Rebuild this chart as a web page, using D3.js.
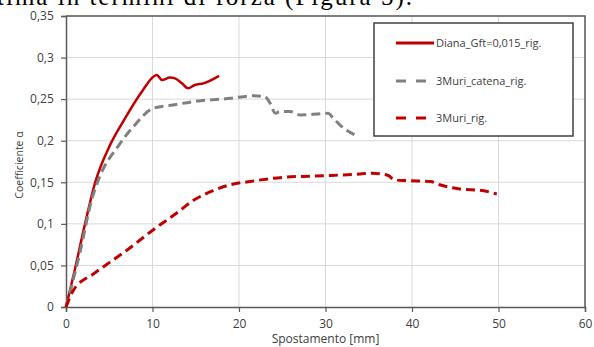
<!DOCTYPE html>
<html>
<head>
<meta charset="utf-8">
<script src="https://cdn.jsdelivr.net/npm/d3@7"></script>
<style>
  body { margin: 0; background: #fff; }
  svg { display: block; }
</style>
</head>
<body>
<div id="chart"></div>
<script>
// x = spostamento [mm], y = coefficiente alpha
var dianaX = [0, 1.0, 2.2, 3.35, 5.1, 6.6, 8.9, 10.1, 10.5, 11.1, 12.0, 12.6, 13.4, 14.1, 14.9, 15.9, 17.7];
var dianaY = [0, 0.044, 0.10, 0.149, 0.195, 0.223, 0.261, 0.277, 0.279, 0.273, 0.276, 0.275, 0.269, 0.263, 0.267, 0.269, 0.278];

var catenaX = [0, 1.6, 2.97, 3.9, 6.0, 7.8, 10.1, 12.4, 14.7, 19.0, 21.7, 23.0, 23.6, 24.2, 24.7, 25.9, 27.1, 29.0, 30.3, 30.9, 32.1, 33.6];
var catenaY = [0, 0.065, 0.129, 0.157, 0.193, 0.217, 0.239, 0.243, 0.247, 0.251, 0.254, 0.253, 0.245, 0.233, 0.235, 0.235, 0.231, 0.232, 0.233, 0.227, 0.215, 0.206];

var muriX = [0, 0.85, 3.2, 5.1, 7.0, 10.1, 12.8, 14.7, 17.0, 19.0, 21.3, 25.1, 30.1, 34.0, 35.4, 36.4, 37.3, 37.9, 39.4, 42.1, 43.2, 45.5, 48.1, 49.8];
var muriY = [0, 0.020, 0.040, 0.054, 0.068, 0.093, 0.113, 0.128, 0.140, 0.147, 0.151, 0.156, 0.158, 0.160, 0.161, 0.160, 0.158, 0.153, 0.152, 0.151, 0.147, 0.142, 0.140, 0.136];

var seriesNames = ['Diana_Gft=0,015_rig.', '3Muri_catena_rig.', '3Muri_rig.'];
var seriesColors = ['#c00000', '#808080', '#c00000'];
var seriesDash = [null, '9,5', '9,5'];
var legendDash = [null, '10,10', '10,10'];

var xTicks = [0, 10, 20, 30, 40, 50, 60];
var yTicks = [0, 0.05, 0.1, 0.15, 0.2, 0.25, 0.3, 0.35];

var width = 594, height = 347;
var margin = { top: 16, right: 9, bottom: 40, left: 66 };
var font = '"Open Sans", "Noto Sans", sans-serif';

var svg = d3.select('#chart').append('svg')
  .attr('width', width)
  .attr('height', height);

// page text above the chart, cut off at the top
svg.append('text')
  .attr('x', -3)
  .attr('y', 5)
  .attr('font-family', '"Liberation Serif", "DejaVu Serif", serif')
  .attr('font-size', 25)
  .attr('textLength', 415)
  .attr('fill', '#000')
  .text('tima in termini di forza (Figura 5).');

var x = d3.scaleLinear().domain([0, 60]).range([margin.left, width - margin.right]);
var y = d3.scaleLinear().domain([0, 0.35]).range([height - margin.bottom, margin.top]);

var fmt = function(d) { return d3.format('')(d).replace('.', ','); };

// grid
svg.append('g').selectAll('line.hgrid').data(yTicks.slice(1)).enter().append('line')
  .attr('x1', x(0)).attr('x2', x(60))
  .attr('y1', function(d) { return y(d); }).attr('y2', function(d) { return y(d); })
  .attr('stroke', '#d9d9d9').attr('stroke-width', 1);
svg.append('g').selectAll('line.vgrid').data(xTicks.slice(1)).enter().append('line')
  .attr('y1', y(0)).attr('y2', y(0.35))
  .attr('x1', function(d) { return x(d); }).attr('x2', function(d) { return x(d); })
  .attr('stroke', '#d9d9d9').attr('stroke-width', 1);

// axes
var xAxis = svg.append('g')
  .attr('transform', 'translate(0,' + y(0) + ')')
  .call(d3.axisBottom(x).tickValues(xTicks).tickSize(5).tickFormat(fmt));
var yAxis = svg.append('g')
  .attr('transform', 'translate(' + x(0) + ',0)')
  .call(d3.axisLeft(y).tickValues(yTicks).tickSize(5).tickFormat(fmt));

[xAxis, yAxis].forEach(function(a) {
  a.select('.domain').attr('stroke', '#595959').attr('stroke-width', 1.5);
  a.selectAll('.tick line').attr('stroke', '#595959').attr('stroke-width', 1.2);
  a.selectAll('.tick text')
    .attr('font-family', font)
    .attr('font-size', 12)
    .attr('fill', '#404040');
});
xAxis.selectAll('.tick text').attr('dy', '1.1em');
yAxis.selectAll('.tick text').attr('dx', '-0.35em');

// plot border top/right
svg.append('path')
  .attr('d', 'M' + x(0) + ',' + y(0.35) + 'H' + x(60) + 'V' + y(0))
  .attr('fill', 'none').attr('stroke', '#595959').attr('stroke-width', 1.5);

// axis titles
svg.append('text')
  .attr('x', (x(0) + x(60)) / 2)
  .attr('y', 343)
  .attr('text-anchor', 'middle')
  .attr('font-family', font)
  .attr('font-size', 12)
  .attr('fill', '#404040')
  .text('Spostamento [mm]');
svg.append('text')
  .attr('transform', 'translate(23,' + 165 + ') rotate(-90)')
  .attr('text-anchor', 'middle')
  .attr('font-family', font)
  .attr('font-size', 10.5)
  .attr('fill', '#404040')
  .text('Coefficiente  α');

// series
var series = [
  dianaX.map(function(d, i) { return [d, dianaY[i]]; }),
  catenaX.map(function(d, i) { return [d, catenaY[i]]; }),
  muriX.map(function(d, i) { return [d, muriY[i]]; })
];

var line = d3.line()
  .x(function(d) { return x(d[0]); })
  .y(function(d) { return y(d[1]); })
  .curve(d3.curveMonotoneX);

svg.append('g').selectAll('path.series').data(series).enter().append('path')
  .attr('class', 'series')
  .attr('d', line)
  .attr('fill', 'none')
  .attr('stroke', function(d, i) { return seriesColors[i]; })
  .attr('stroke-width', function(d, i) { return i === 0 ? 2.5 : 3; })
  .attr('stroke-dasharray', function(d, i) { return seriesDash[i]; });

// legend
var legend = svg.append('g');
legend.append('rect')
  .attr('x', 374).attr('y', 23)
  .attr('width', 199).attr('height', 113)
  .attr('fill', '#fff')
  .attr('stroke', '#404040').attr('stroke-width', 1.5);

var rowsY = [43, 81, 118];
var rows = legend.selectAll('g.row').data(seriesNames).enter().append('g')
  .attr('class', 'row')
  .attr('transform', function(d, i) { return 'translate(0,' + rowsY[i] + ')'; });
rows.append('line')
  .attr('x1', 396).attr('x2', function(d, i) { return i === 0 ? 434 : 426; })
  .attr('stroke', function(d, i) { return seriesColors[i]; })
  .attr('stroke-width', 3)
  .attr('stroke-dasharray', function(d, i) { return legendDash[i]; });
rows.append('text')
  .attr('x', 436)
  .attr('dy', '0.35em')
  .attr('font-family', font)
  .attr('font-size', 11)
  .attr('fill', '#404040')
  .text(function(d) { return d; });
</script>
</body>
</html>
